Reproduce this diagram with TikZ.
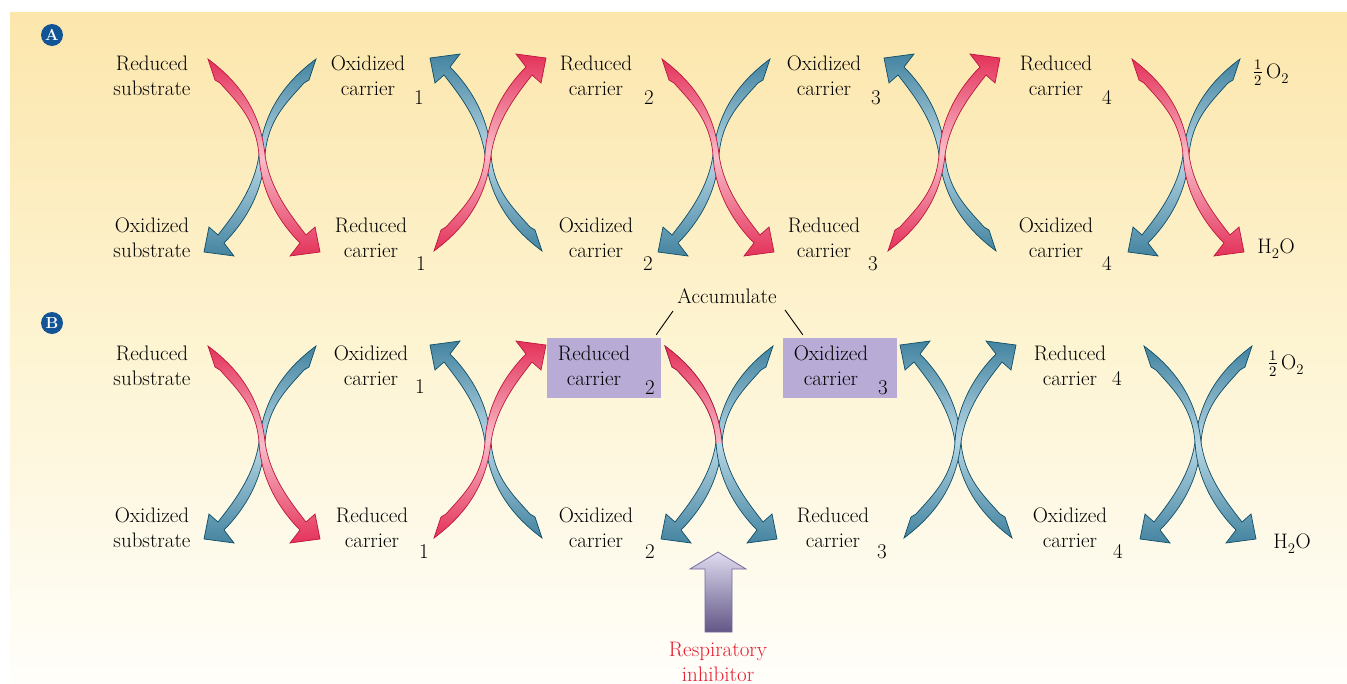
\documentclass[tikz,border=0pt]{standalone}
\usepackage{fontspec}
\usepackage{unicode-math}
\setmathfont{Latin Modern Math}
\definecolor{reddark}{RGB}{228,50,90}
\definecolor{redlight}{RGB}{248,188,200}
\definecolor{redline}{RGB}{190,22,62}
\definecolor{bluedark}{RGB}{68,132,160}
\definecolor{bluelight}{RGB}{182,214,228}
\definecolor{blueline}{RGB}{14,78,104}
\definecolor{boxcol}{RGB}{184,172,214}
\definecolor{txt}{RGB}{0,0,0}
\definecolor{inhred}{RGB}{230,28,48}
\definecolor{circ}{RGB}{17,85,150}
\definecolor{bgtop}{RGB}{252,230,172}
\definecolor{bgmid}{RGB}{253,244,210}
\definecolor{bgbot}{RGB}{255,254,250}
\definecolor{inhtop}{RGB}{224,220,240}
\definecolor{inhbot}{RGB}{98,86,134}
\definecolor{inhline}{RGB}{120,105,160}
\newcommand{\tl}[2]{\begin{tabular}[t]{@{}c@{}}#1\\#2\end{tabular}}
\newcommand{\carr}[2]{\path[#1,#2] (-54,-96) .. controls (-30,-78) and (-2,-50) .. (3,0) .. controls (8,35) and (30,62) .. (44,80) -- (53,72) -- (58,97) -- (28,101) -- (38,88) .. controls (20,70) and (-1,40) .. (-3,0) .. controls (-6,-35) and (-24,-52) .. (-42,-72) -- (-47,-75) -- cycle;}
\tikzset{
  redarr/.style={draw=redline,line width=0.7pt,top color=reddark,bottom color=reddark,middle color=redlight},
  bluearr/.style={draw=blueline,line width=0.7pt,top color=bluedark,bottom color=bluedark,middle color=bluelight},
  lbl/.style={font=\fontsize{21}{25}\selectfont,inner sep=0pt,anchor=base,text=txt},
  accbox/.style={fill=boxcol,minimum width=114pt,minimum height=60pt,inner sep=0pt},
  panel/.style={circle,fill=circ,inner sep=0pt,minimum size=22pt,text=white,font=\bfseries\fontsize{16}{16}\selectfont},
  inh/.style={draw=inhline,line width=0.8pt,top color=inhtop,bottom color=inhbot},
  conn/.style={draw=black,line width=0.9pt}
}
\begin{document}
\begin{tikzpicture}[x=1pt,y=-1pt]
\useasboundingbox (0,0) rectangle (1347,683);
\path[top color=bgtop,bottom color=bgbot,middle color=bgmid] (10,12) rectangle (1347,683);

% panel markers
\node[panel] (pA) at (52,35) {A};
\node[panel] (pB) at (52,323) {B};

% ---------- Panel A arrows ----------
\begin{scope}[shift={(262,155)}]
 \carr{bluearr}{xscale=-1} \carr{redarr}{}
\end{scope}
\begin{scope}[shift={(488,155)}]
 \carr{bluearr}{xscale=-1,yscale=-1} \carr{redarr}{yscale=-1}
\end{scope}
\begin{scope}[shift={(716,155)}]
 \carr{bluearr}{xscale=-1} \carr{redarr}{}
\end{scope}
\begin{scope}[shift={(942,155)}]
 \carr{bluearr}{xscale=-1,yscale=-1} \carr{redarr}{yscale=-1}
\end{scope}
\begin{scope}[shift={(1186,155)}]
 \carr{bluearr}{xscale=-1} \carr{redarr}{}
\end{scope}

% ---------- Panel B arrows ----------
\begin{scope}[shift={(262,442)}]
 \carr{bluearr}{xscale=-1} \carr{redarr}{}
\end{scope}
\begin{scope}[shift={(488,442)}]
 \carr{bluearr}{xscale=-1,yscale=-1} \carr{redarr}{yscale=-1}
\end{scope}
\begin{scope}[shift={(719,442)}]
 \carr{bluearr}{xscale=-1} \carr{bluearr}{}
 \begin{scope}
  \clip (-70,-115) rectangle (70,0);
  \carr{redarr}{}
 \end{scope}
\end{scope}
\begin{scope}[shift={(958,442)}]
 \carr{bluearr}{xscale=-1,yscale=-1} \carr{bluearr}{yscale=-1}
\end{scope}
\begin{scope}[shift={(1198,442)}]
 \carr{bluearr}{xscale=-1} \carr{bluearr}{}
\end{scope}

% ---------- Panel A labels ----------
\node[lbl] (a-rs) at (152,70) {\tl{Reduced}{substrate}};
\node[lbl] (a-oc1) at (368,70) {\tl{Oxidized}{carrier}};
\node[lbl] (a-d1t) at (419,104) {1};
\node[lbl] (a-rc2) at (596,70) {\tl{Reduced}{carrier}};
\node[lbl] (a-d2t) at (649,104) {2};
\node[lbl] (a-oc3) at (824,70) {\tl{Oxidized}{carrier}};
\node[lbl] (a-d3t) at (876,104) {3};
\node[lbl] (a-rc4) at (1056,70) {\tl{Reduced}{carrier}};
\node[lbl] (a-d4t) at (1107,104) {4};
\node[lbl] (a-o2) at (1271,78) {$\frac{1}{2}$\,O\textsubscript{2}};

\node[lbl] (a-os) at (152,232) {\tl{Oxidized}{substrate}};
\node[lbl] (a-rc1) at (371,232) {\tl{Reduced}{carrier}};
\node[lbl] (a-d1b) at (421,270) {1};
\node[lbl] (a-oc2) at (596,232) {\tl{Oxidized}{carrier}};
\node[lbl] (a-d2b) at (648,270) {2};
\node[lbl] (a-rc3) at (824,232) {\tl{Reduced}{carrier}};
\node[lbl] (a-d3b) at (873,270) {3};
\node[lbl] (a-oc4) at (1056,232) {\tl{Oxidized}{carrier}};
\node[lbl] (a-d4b) at (1107,270) {4};
\node[lbl] (a-h2o) at (1276,253) {H\textsubscript{2}O};

% ---------- Panel B labels ----------
\node[accbox] (box2) at (604,368) {};
\node[accbox] (box3) at (840,368) {};

\node[lbl] (b-rs) at (152,360) {\tl{Reduced}{substrate}};
\node[lbl] (b-oc1) at (371,360) {\tl{Oxidized}{carrier}};
\node[lbl] (b-d1t) at (420,393) {1};
\node[lbl] (b-rc2) at (594,360) {\tl{Reduced}{carrier}};
\node[lbl] (b-d2t) at (650,394) {2};
\node[lbl] (b-oc3) at (831,360) {\tl{Oxidized}{carrier}};
\node[lbl] (b-d3t) at (883,394) {3};
\node[lbl] (b-rc4) at (1070,360) {\tl{Reduced}{carrier}};
\node[lbl] (b-d4t) at (1117,385) {4};
\node[lbl] (b-o2) at (1286,369) {$\frac{1}{2}$\,O\textsubscript{2}};

\node[lbl] (b-os) at (152,522) {\tl{Oxidized}{substrate}};
\node[lbl] (b-rc1) at (372,522) {\tl{Reduced}{carrier}};
\node[lbl] (b-d1b) at (424,558) {1};
\node[lbl] (b-oc2) at (596,522) {\tl{Oxidized}{carrier}};
\node[lbl] (b-d2b) at (650,558) {2};
\node[lbl] (b-rc3) at (833,522) {\tl{Reduced}{carrier}};
\node[lbl] (b-d3b) at (882,558) {3};
\node[lbl] (b-oc4) at (1070,522) {\tl{Oxidized}{carrier}};
\node[lbl] (b-d4b) at (1118,558) {4};
\node[lbl] (b-h2o) at (1292,548) {H\textsubscript{2}O};

% Accumulate
\node[lbl] (acc) at (727,303) {Accumulate};
\coordinate (accL) at (673,311);
\coordinate (accR) at (785,310);
\draw[conn] (accL) -- ([xshift=-5pt,yshift=3pt]box2.north east);
\draw[conn] (accR) -- ([xshift=20pt,yshift=3pt]box3.north west);

% inhibitor
\path[inh] (705,632) -- (705,569) -- (690,569) -- (718,552) -- (746,569) -- (732,569) -- (732,632) -- cycle;
\node[lbl,text=inhred] (resp) at (718,656) {\tl{Respiratory}{inhibitor}};
\end{tikzpicture}
\end{document}
